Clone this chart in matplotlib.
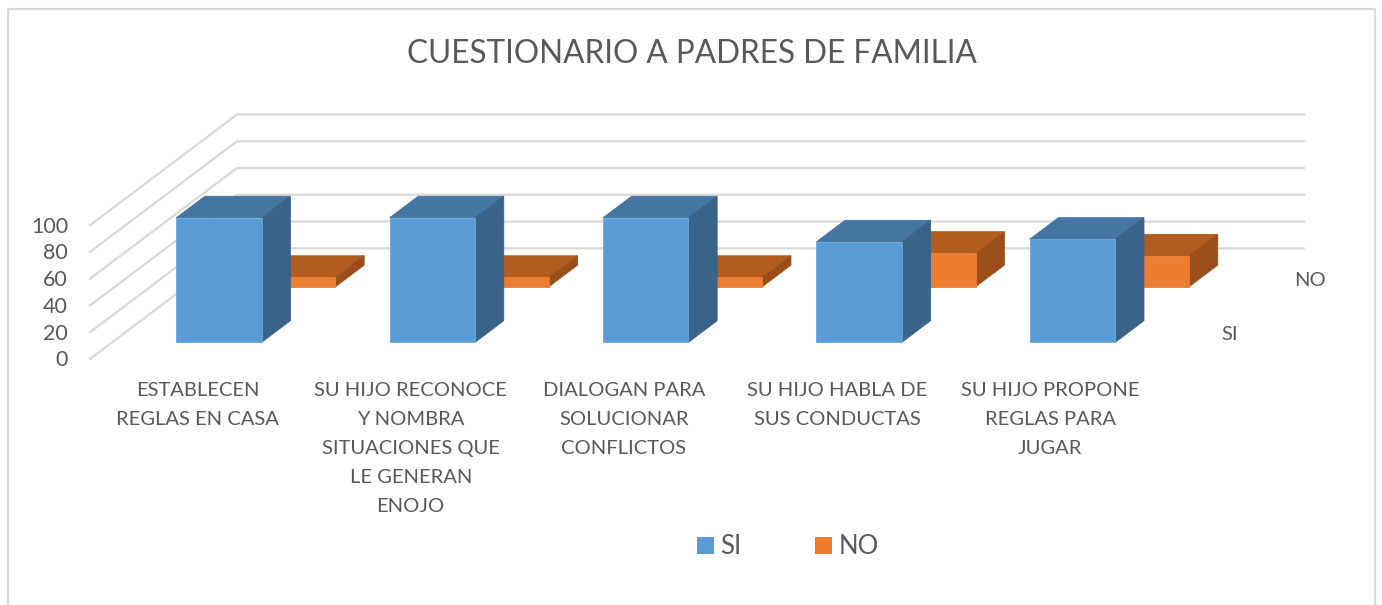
import matplotlib
matplotlib.use("Agg")
import matplotlib.pyplot as plt
from matplotlib.patches import Polygon, Rectangle

# Values
categories = ["ESTABLECEN\nREGLAS EN CASA",
              "SU HIJO RECONOCE\nY NOMBRA\nSITUACIONES QUE\nLE GENERAN\nENOJO",
              "DIALOGAN PARA\nSOLUCIONAR\nCONFLICTOS",
              "SU HIJO HABLA DE\nSUS CONDUCTAS",
              "SU HIJO PROPONE\nREGLAS PARA\nJUGAR"]
si_values = [93, 93, 93, 75, 77]
no_values = [7, 7, 7, 25, 23]
y_ticks = [0, 20, 40, 60, 80, 100]
title = "CUESTIONARIO A PADRES DE FAMILIA"

TEXT = "#595959"
GRID = "#d9d9d9"
FONT = "Lato"

# Oblique projection of the Excel 3D box, output in figure pixels
X0, Y0 = 90.0, 359.0
CAT_W = 213.4
VAL_H = 1.338
DEPTH_X, DEPTH_Y = 147.0, 110.7
BAR_W = 0.401


def project(x, val, depth):
    return X0 + x*CAT_W + depth*DEPTH_X, Y0 - val*VAL_H - depth*DEPTH_Y


def draw_bar(ax, x, val, d0, d1, front, top, side, edge):
    x0 = x + 0.5 - BAR_W/2
    x1 = x + 0.5 + BAR_W/2
    faces = [
        ([(x0, val, d0), (x1, val, d0), (x1, val, d1), (x0, val, d1)], top, top),
        ([(x1, 0, d0), (x1, val, d0), (x1, val, d1), (x1, 0, d1)], side, side),
        ([(x0, 0, d0), (x1, 0, d0), (x1, val, d0), (x0, val, d0)], front, edge),
    ]
    for pts, color, line in faces:
        ax.add_patch(Polygon([project(*p) for p in pts], closed=True,
                             facecolor=color, edgecolor=line, lw=0.6, zorder=3))


def main():
    fig = plt.figure(figsize=(13.82, 6.05), dpi=100)
    ax = fig.add_axes([0, 0, 1, 1])
    ax.set_xlim(0, 1382)
    ax.set_ylim(605, 0)
    ax.axis("off")

    # chart area border
    ax.plot([8.5, 8.5, 1375, 1375], [605, 8.5, 8.5, 605], color=GRID, lw=1.6)

    ax.text(692, 54, title, ha="center", va="center", color=TEXT,
            fontsize=22.7, family=FONT)

    # walls
    n = len(categories)
    for t in y_ticks:
        a = project(0, t, 0)
        b = project(0, t, 1)
        c = project(n, t, 1)
        ax.plot([a[0], b[0], c[0]], [a[1], b[1], c[1]], color=GRID, lw=1.6, zorder=1)
        ax.text(a[0] - 22, a[1] + 1.5, str(t), ha="right", va="center", color=TEXT,
                fontsize=15.5, family=FONT)

    # bars, back row first
    for i in range(n):
        draw_bar(ax, i, no_values[i], 0.653, 0.848,
                 "#ed7d31", "#b35c20", "#9a4f1b", "#ed7d31")
    for i in range(n):
        draw_bar(ax, i, si_values[i], 0.151, 0.346,
                 "#5b9bd5", "#4575a1", "#3a6389", "#6fa6da")

    for i, label in enumerate(categories):
        ax.text(197.5 + i*213.2, 382, label, ha="center", va="top", color=TEXT,
                fontsize=14.5, family=FONT, linespacing=1.85)

    # series axis labels
    ax.text(1229.5, 335, "SI", ha="center", va="center", color=TEXT, fontsize=14.5, family=FONT)
    ax.text(1310, 280, "NO", ha="center", va="center", color=TEXT, fontsize=14.5, family=FONT)

    # legend
    ax.add_patch(Rectangle((697, 537), 17, 17, facecolor="#5b9bd5", edgecolor="none"))
    ax.text(720, 547, "SI", ha="left", va="center", color=TEXT, fontsize=18.5, family=FONT)
    ax.add_patch(Rectangle((815, 537), 17, 17, facecolor="#ed7d31", edgecolor="none"))
    ax.text(839, 547, "NO", ha="left", va="center", color=TEXT, fontsize=18.5, family=FONT)

    fig.savefig("out.png", dpi=100)


if __name__ == '__main__':
    main()
